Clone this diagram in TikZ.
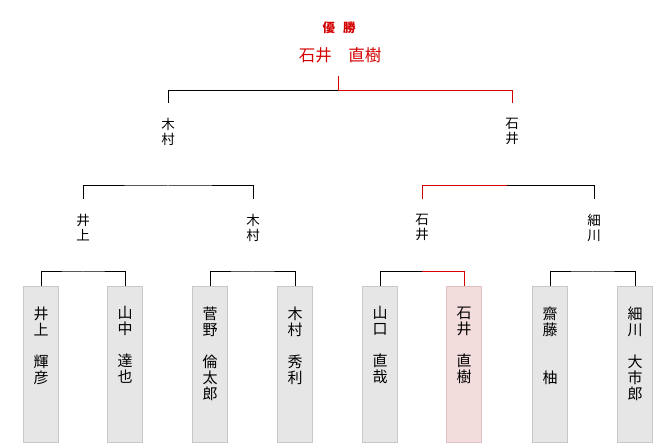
\documentclass[tikz,border=0pt]{standalone}
\usepackage{fontspec}
\newfontfamily\jp{Noto Sans CJK JP}
\usetikzlibrary{positioning}
\definecolor{winred}{HTML}{D40000}
\definecolor{boxgray}{HTML}{E6E6E6}
\definecolor{boxedge}{HTML}{C8C8C8}
\definecolor{boxpink}{HTML}{F3DCDC}
\definecolor{pinkedge}{HTML}{DFC0C0}

\begin{document}
\begin{tikzpicture}[
  x=1pt, y=1pt,
  entry/.style={draw=boxedge, fill=boxgray, line width=1pt, minimum width=35pt, minimum height=156pt, inner sep=0pt},
  champ/.style={entry, draw=pinkedge, fill=boxpink},
  pname/.style={font=\jp\fontsize{15}{16}\selectfont, align=center, inner sep=0pt},
  rname/.style={font=\jp\fontsize{13.5}{15}\selectfont, align=center, inner sep=0pt},
  line/.style={line width=1pt},
  winline/.style={line width=1pt, draw=winred}
]
\useasboundingbox (0,0) rectangle (670,445);

% players
\node[entry] (p1) at (41,80.5) {};
\node[entry] (p2) at (125,80.5) {};
\node[entry] (p3) at (210,80.5) {};
\node[entry] (p4) at (295,80.5) {};
\node[entry] (p5) at (380,80.5) {};
\node[champ] (p6) at (464,80.5) {};
\node[entry] (p7) at (550,80.5) {};
\node[entry] (p8) at (635,80.5) {};

\node[pname, below=20.5pt of p1.north] (n1) {井\\上\\[16pt]輝\\彦};
\node[pname, below=20.5pt of p2.north] (n2) {山\\中\\[16pt]達\\也};
\node[pname, below=20.5pt of p3.north] (n3) {菅\\野\\[16pt]倫\\太\\郎};
\node[pname, below=20.5pt of p4.north] (n4) {木\\村\\[16pt]秀\\利};
\node[pname, below=20.5pt of p5.north] (n5) {山\\口\\[16pt]直\\哉};
\node[pname, below=20.5pt of p6.north] (n6) {石\\井\\[16pt]直\\樹};
\node[pname, below=20.5pt of p7.north] (n7) {齋\\藤\\[32pt]柚};
\node[pname, below=20.5pt of p8.north] (n8) {細\\川\\[16pt]大\\市\\郎};

% first round
\coordinate (m12) at (83,173);
\coordinate (m34) at (252.5,173);
\coordinate (m56) at (422,173);
\coordinate (m78) at (592.5,173);
\draw[line] (p1.north) |- (m12) -| (p2.north);
\draw[line] (p3.north) |- (m34) -| (p4.north);
\draw[line] (p5.north) |- (m56);
\draw[winline] (m56) -| (p6.north);
\draw[line] (p7.north) |- (m78) -| (p8.north);

\node[rname] (w1) at (83,217.5) {井\\上};
\node[rname] (w2) at (253,217.5) {木\\村};
\node[rname] (w3) at (422,217.5) {石\\井};
\node[rname] (w4) at (594,217.5) {細\\川};

% semi-final
\coordinate (s1) at (168,259);
\coordinate (s2) at (507,259);
\draw[line] ([yshift=15pt]w1.north) |- (s1) -| ([yshift=15pt]w2.north);
\draw[winline] ([yshift=15pt]w3.north) |- (s2);
\draw[line] (s2) -| ([yshift=15pt]w4.north);

\node[rname] (f1) at (168,313.5) {木\\村};
\node[rname] (f2) at (512,313.5) {石\\井};

% final
\node[font=\jp\fontsize{16.5}{18}\selectfont, text=winred, inner sep=0pt] (ttl) at (340,389.5) {石井　直樹};
\node[font=\jp\bfseries\fontsize{12.5}{14}\selectfont, text=winred, inner sep=0pt] (yu) at (339,417.5) {優\hspace{8pt}勝};
\coordinate (fin) at (338,354);
\draw[line] ([yshift=15pt]f1.north) |- (fin);
\draw[winline] (fin) -| ([yshift=15pt]f2.north);
\draw[winline] (fin) -- ([yshift=-13pt]ttl.south -| fin);
\end{tikzpicture}
\end{document}
